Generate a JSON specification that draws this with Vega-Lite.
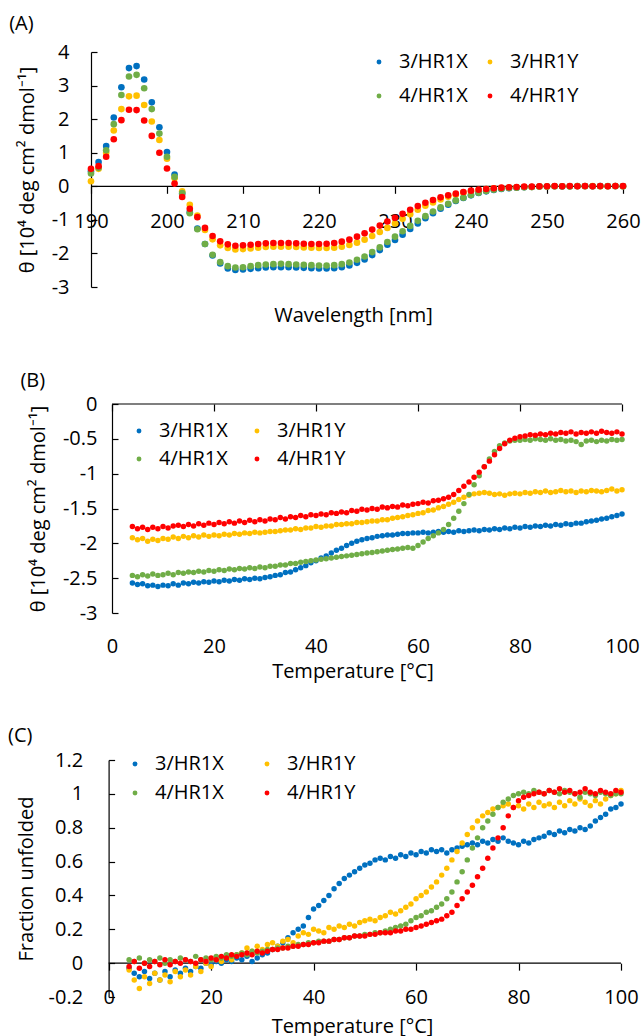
{
"$schema": "https://vega.github.io/schema/vega-lite/v6.json",
"background": "white",
"padding": {"left": 8, "top": 14, "right": 2, "bottom": 0},
"spacing": 45,
"config": {
  "font": "Open Sans",
  "view": {"stroke": null},
  "axis": {"labelFont": "Open Sans", "labelFontSize": 20, "labelColor": "#000", "titleFont": "Open Sans", "titleFontSize": 20, "titleFontWeight": "normal", "titleColor": "#000", "domainColor": "#000", "domainWidth": 1.2, "tickColor": "#000", "tickWidth": 1.2, "grid": false, "labelFlush": false, "labelOverlap": false, "maxExtent": 300, "labelExpr": "'' + datum.value"},
  "axisX": {"domain": false},
  "legend": {"labelFont": "Open Sans", "labelFontSize": 20, "labelColor": "#000", "symbolType": "circle", "symbolSize": 24, "symbolStrokeWidth": 0, "symbolOpacity": 1, "labelOffset": 10, "padding": 0, "title": null},
  "title": {"font": "Open Sans", "fontSize": 20, "fontWeight": "normal", "anchor": "start", "color": "#000", "frame": "bounds"}
},
"resolve": {"legend": {"color": "independent"}, "scale": {"color": "independent"}},
"datasets": {
"a": [
{"s":"3/HR1X","x":190,"y":0.45},{"s":"3/HR1X","x":191,"y":0.72},{"s":"3/HR1X","x":192,"y":1.2},{"s":"3/HR1X","x":193,"y":2.05},{"s":"3/HR1X","x":194,"y":2.95},{"s":"3/HR1X","x":195,"y":3.52},{"s":"3/HR1X","x":196,"y":3.58},{"s":"3/HR1X","x":197,"y":3.18},{"s":"3/HR1X","x":198,"y":2.5},{"s":"3/HR1X","x":199,"y":1.76},{"s":"3/HR1X","x":200,"y":1.02},{"s":"3/HR1X","x":201,"y":0.35},{"s":"3/HR1X","x":202,"y":-0.22},{"s":"3/HR1X","x":203,"y":-0.77},{"s":"3/HR1X","x":204,"y":-1.26},{"s":"3/HR1X","x":205,"y":-1.72},{"s":"3/HR1X","x":206,"y":-2.06},{"s":"3/HR1X","x":207,"y":-2.3},{"s":"3/HR1X","x":208,"y":-2.45},{"s":"3/HR1X","x":209,"y":-2.49},{"s":"3/HR1X","x":210,"y":-2.48},{"s":"3/HR1X","x":211,"y":-2.46},{"s":"3/HR1X","x":212,"y":-2.44},{"s":"3/HR1X","x":213,"y":-2.42},{"s":"3/HR1X","x":214,"y":-2.41},{"s":"3/HR1X","x":215,"y":-2.41},{"s":"3/HR1X","x":216,"y":-2.41},{"s":"3/HR1X","x":217,"y":-2.42},{"s":"3/HR1X","x":218,"y":-2.43},{"s":"3/HR1X","x":219,"y":-2.44},{"s":"3/HR1X","x":220,"y":-2.45},{"s":"3/HR1X","x":221,"y":-2.45},{"s":"3/HR1X","x":222,"y":-2.44},{"s":"3/HR1X","x":223,"y":-2.41},{"s":"3/HR1X","x":224,"y":-2.36},{"s":"3/HR1X","x":225,"y":-2.28},{"s":"3/HR1X","x":226,"y":-2.18},{"s":"3/HR1X","x":227,"y":-2.05},{"s":"3/HR1X","x":228,"y":-1.9},{"s":"3/HR1X","x":229,"y":-1.74},{"s":"3/HR1X","x":230,"y":-1.6},{"s":"3/HR1X","x":231,"y":-1.44},{"s":"3/HR1X","x":232,"y":-1.27},{"s":"3/HR1X","x":233,"y":-1.11},{"s":"3/HR1X","x":234,"y":-0.95},{"s":"3/HR1X","x":235,"y":-0.8},{"s":"3/HR1X","x":236,"y":-0.67},{"s":"3/HR1X","x":237,"y":-0.55},{"s":"3/HR1X","x":238,"y":-0.44},{"s":"3/HR1X","x":239,"y":-0.35},{"s":"3/HR1X","x":240,"y":-0.27},{"s":"3/HR1X","x":241,"y":-0.2},{"s":"3/HR1X","x":242,"y":-0.15},{"s":"3/HR1X","x":243,"y":-0.11},{"s":"3/HR1X","x":244,"y":-0.08},{"s":"3/HR1X","x":245,"y":-0.06},{"s":"3/HR1X","x":246,"y":-0.04},{"s":"3/HR1X","x":247,"y":-0.03},{"s":"3/HR1X","x":248,"y":-0.02},{"s":"3/HR1X","x":249,"y":-0.01},{"s":"3/HR1X","x":250,"y":-0.01},{"s":"3/HR1X","x":251,"y":0},{"s":"3/HR1X","x":252,"y":-0.01},{"s":"3/HR1X","x":253,"y":0},{"s":"3/HR1X","x":254,"y":0.01},{"s":"3/HR1X","x":255,"y":0},{"s":"3/HR1X","x":256,"y":0},{"s":"3/HR1X","x":257,"y":0.01},{"s":"3/HR1X","x":258,"y":0},{"s":"3/HR1X","x":259,"y":0.01},{"s":"3/HR1X","x":260,"y":0},
{"s":"3/HR1Y","x":190,"y":0.15},{"s":"3/HR1Y","x":191,"y":0.52},{"s":"3/HR1Y","x":192,"y":1.0},{"s":"3/HR1Y","x":193,"y":1.66},{"s":"3/HR1Y","x":194,"y":2.3},{"s":"3/HR1Y","x":195,"y":2.68},{"s":"3/HR1Y","x":196,"y":2.7},{"s":"3/HR1Y","x":197,"y":2.42},{"s":"3/HR1Y","x":198,"y":1.93},{"s":"3/HR1Y","x":199,"y":1.38},{"s":"3/HR1Y","x":200,"y":0.82},{"s":"3/HR1Y","x":201,"y":0.24},{"s":"3/HR1Y","x":202,"y":-0.15},{"s":"3/HR1Y","x":203,"y":-0.55},{"s":"3/HR1Y","x":204,"y":-0.87},{"s":"3/HR1Y","x":205,"y":-1.3},{"s":"3/HR1Y","x":206,"y":-1.58},{"s":"3/HR1Y","x":207,"y":-1.76},{"s":"3/HR1Y","x":208,"y":-1.84},{"s":"3/HR1Y","x":209,"y":-1.88},{"s":"3/HR1Y","x":210,"y":-1.87},{"s":"3/HR1Y","x":211,"y":-1.85},{"s":"3/HR1Y","x":212,"y":-1.83},{"s":"3/HR1Y","x":213,"y":-1.81},{"s":"3/HR1Y","x":214,"y":-1.8},{"s":"3/HR1Y","x":215,"y":-1.8},{"s":"3/HR1Y","x":216,"y":-1.8},{"s":"3/HR1Y","x":217,"y":-1.81},{"s":"3/HR1Y","x":218,"y":-1.82},{"s":"3/HR1Y","x":219,"y":-1.83},{"s":"3/HR1Y","x":220,"y":-1.84},{"s":"3/HR1Y","x":221,"y":-1.84},{"s":"3/HR1Y","x":222,"y":-1.83},{"s":"3/HR1Y","x":223,"y":-1.8},{"s":"3/HR1Y","x":224,"y":-1.75},{"s":"3/HR1Y","x":225,"y":-1.68},{"s":"3/HR1Y","x":226,"y":-1.59},{"s":"3/HR1Y","x":227,"y":-1.48},{"s":"3/HR1Y","x":228,"y":-1.36},{"s":"3/HR1Y","x":229,"y":-1.24},{"s":"3/HR1Y","x":230,"y":-1.11},{"s":"3/HR1Y","x":231,"y":-0.97},{"s":"3/HR1Y","x":232,"y":-0.83},{"s":"3/HR1Y","x":233,"y":-0.7},{"s":"3/HR1Y","x":234,"y":-0.58},{"s":"3/HR1Y","x":235,"y":-0.48},{"s":"3/HR1Y","x":236,"y":-0.39},{"s":"3/HR1Y","x":237,"y":-0.31},{"s":"3/HR1Y","x":238,"y":-0.25},{"s":"3/HR1Y","x":239,"y":-0.19},{"s":"3/HR1Y","x":240,"y":-0.15},{"s":"3/HR1Y","x":241,"y":-0.11},{"s":"3/HR1Y","x":242,"y":-0.08},{"s":"3/HR1Y","x":243,"y":-0.06},{"s":"3/HR1Y","x":244,"y":-0.05},{"s":"3/HR1Y","x":245,"y":-0.04},{"s":"3/HR1Y","x":246,"y":-0.03},{"s":"3/HR1Y","x":247,"y":-0.02},{"s":"3/HR1Y","x":248,"y":-0.02},{"s":"3/HR1Y","x":249,"y":-0.01},{"s":"3/HR1Y","x":250,"y":-0.01},{"s":"3/HR1Y","x":251,"y":0},{"s":"3/HR1Y","x":252,"y":0},{"s":"3/HR1Y","x":253,"y":0},{"s":"3/HR1Y","x":254,"y":0.01},{"s":"3/HR1Y","x":255,"y":0},{"s":"3/HR1Y","x":256,"y":0.01},{"s":"3/HR1Y","x":257,"y":0},{"s":"3/HR1Y","x":258,"y":0},{"s":"3/HR1Y","x":259,"y":0.01},{"s":"3/HR1Y","x":260,"y":0},
{"s":"4/HR1X","x":190,"y":0.38},{"s":"4/HR1X","x":191,"y":0.55},{"s":"4/HR1X","x":192,"y":1.07},{"s":"4/HR1X","x":193,"y":1.85},{"s":"4/HR1X","x":194,"y":2.72},{"s":"4/HR1X","x":195,"y":3.27},{"s":"4/HR1X","x":196,"y":3.32},{"s":"4/HR1X","x":197,"y":2.92},{"s":"4/HR1X","x":198,"y":2.3},{"s":"4/HR1X","x":199,"y":1.57},{"s":"4/HR1X","x":200,"y":0.88},{"s":"4/HR1X","x":201,"y":0.28},{"s":"4/HR1X","x":202,"y":-0.2},{"s":"4/HR1X","x":203,"y":-0.8},{"s":"4/HR1X","x":204,"y":-1.28},{"s":"4/HR1X","x":205,"y":-1.72},{"s":"4/HR1X","x":206,"y":-2.04},{"s":"4/HR1X","x":207,"y":-2.26},{"s":"4/HR1X","x":208,"y":-2.38},{"s":"4/HR1X","x":209,"y":-2.42},{"s":"4/HR1X","x":210,"y":-2.41},{"s":"4/HR1X","x":211,"y":-2.38},{"s":"4/HR1X","x":212,"y":-2.35},{"s":"4/HR1X","x":213,"y":-2.33},{"s":"4/HR1X","x":214,"y":-2.32},{"s":"4/HR1X","x":215,"y":-2.31},{"s":"4/HR1X","x":216,"y":-2.32},{"s":"4/HR1X","x":217,"y":-2.33},{"s":"4/HR1X","x":218,"y":-2.34},{"s":"4/HR1X","x":219,"y":-2.35},{"s":"4/HR1X","x":220,"y":-2.36},{"s":"4/HR1X","x":221,"y":-2.36},{"s":"4/HR1X","x":222,"y":-2.35},{"s":"4/HR1X","x":223,"y":-2.32},{"s":"4/HR1X","x":224,"y":-2.27},{"s":"4/HR1X","x":225,"y":-2.19},{"s":"4/HR1X","x":226,"y":-2.09},{"s":"4/HR1X","x":227,"y":-1.96},{"s":"4/HR1X","x":228,"y":-1.82},{"s":"4/HR1X","x":229,"y":-1.66},{"s":"4/HR1X","x":230,"y":-1.5},{"s":"4/HR1X","x":231,"y":-1.34},{"s":"4/HR1X","x":232,"y":-1.18},{"s":"4/HR1X","x":233,"y":-1.03},{"s":"4/HR1X","x":234,"y":-0.89},{"s":"4/HR1X","x":235,"y":-0.75},{"s":"4/HR1X","x":236,"y":-0.63},{"s":"4/HR1X","x":237,"y":-0.52},{"s":"4/HR1X","x":238,"y":-0.42},{"s":"4/HR1X","x":239,"y":-0.34},{"s":"4/HR1X","x":240,"y":-0.26},{"s":"4/HR1X","x":241,"y":-0.19},{"s":"4/HR1X","x":242,"y":-0.14},{"s":"4/HR1X","x":243,"y":-0.1},{"s":"4/HR1X","x":244,"y":-0.07},{"s":"4/HR1X","x":245,"y":-0.05},{"s":"4/HR1X","x":246,"y":-0.04},{"s":"4/HR1X","x":247,"y":-0.03},{"s":"4/HR1X","x":248,"y":-0.02},{"s":"4/HR1X","x":249,"y":-0.01},{"s":"4/HR1X","x":250,"y":-0.01},{"s":"4/HR1X","x":251,"y":0},{"s":"4/HR1X","x":252,"y":0},{"s":"4/HR1X","x":253,"y":-0.01},{"s":"4/HR1X","x":254,"y":0},{"s":"4/HR1X","x":255,"y":0.01},{"s":"4/HR1X","x":256,"y":0},{"s":"4/HR1X","x":257,"y":0},{"s":"4/HR1X","x":258,"y":0.01},{"s":"4/HR1X","x":259,"y":0},{"s":"4/HR1X","x":260,"y":0},
{"s":"4/HR1Y","x":190,"y":0.52},{"s":"4/HR1Y","x":191,"y":0.6},{"s":"4/HR1Y","x":192,"y":0.88},{"s":"4/HR1Y","x":193,"y":1.4},{"s":"4/HR1Y","x":194,"y":1.97},{"s":"4/HR1Y","x":195,"y":2.28},{"s":"4/HR1Y","x":196,"y":2.27},{"s":"4/HR1Y","x":197,"y":1.96},{"s":"4/HR1Y","x":198,"y":1.5},{"s":"4/HR1Y","x":199,"y":1.0},{"s":"4/HR1Y","x":200,"y":0.53},{"s":"4/HR1Y","x":201,"y":0.08},{"s":"4/HR1Y","x":202,"y":-0.32},{"s":"4/HR1Y","x":203,"y":-0.67},{"s":"4/HR1Y","x":204,"y":-0.92},{"s":"4/HR1Y","x":205,"y":-1.24},{"s":"4/HR1Y","x":206,"y":-1.48},{"s":"4/HR1Y","x":207,"y":-1.64},{"s":"4/HR1Y","x":208,"y":-1.73},{"s":"4/HR1Y","x":209,"y":-1.77},{"s":"4/HR1Y","x":210,"y":-1.76},{"s":"4/HR1Y","x":211,"y":-1.74},{"s":"4/HR1Y","x":212,"y":-1.72},{"s":"4/HR1Y","x":213,"y":-1.7},{"s":"4/HR1Y","x":214,"y":-1.69},{"s":"4/HR1Y","x":215,"y":-1.69},{"s":"4/HR1Y","x":216,"y":-1.69},{"s":"4/HR1Y","x":217,"y":-1.7},{"s":"4/HR1Y","x":218,"y":-1.71},{"s":"4/HR1Y","x":219,"y":-1.72},{"s":"4/HR1Y","x":220,"y":-1.72},{"s":"4/HR1Y","x":221,"y":-1.71},{"s":"4/HR1Y","x":222,"y":-1.69},{"s":"4/HR1Y","x":223,"y":-1.65},{"s":"4/HR1Y","x":224,"y":-1.59},{"s":"4/HR1Y","x":225,"y":-1.5},{"s":"4/HR1Y","x":226,"y":-1.4},{"s":"4/HR1Y","x":227,"y":-1.29},{"s":"4/HR1Y","x":228,"y":-1.17},{"s":"4/HR1Y","x":229,"y":-1.05},{"s":"4/HR1Y","x":230,"y":-0.94},{"s":"4/HR1Y","x":231,"y":-0.82},{"s":"4/HR1Y","x":232,"y":-0.7},{"s":"4/HR1Y","x":233,"y":-0.59},{"s":"4/HR1Y","x":234,"y":-0.49},{"s":"4/HR1Y","x":235,"y":-0.41},{"s":"4/HR1Y","x":236,"y":-0.33},{"s":"4/HR1Y","x":237,"y":-0.27},{"s":"4/HR1Y","x":238,"y":-0.22},{"s":"4/HR1Y","x":239,"y":-0.17},{"s":"4/HR1Y","x":240,"y":-0.13},{"s":"4/HR1Y","x":241,"y":-0.1},{"s":"4/HR1Y","x":242,"y":-0.08},{"s":"4/HR1Y","x":243,"y":-0.06},{"s":"4/HR1Y","x":244,"y":-0.04},{"s":"4/HR1Y","x":245,"y":-0.03},{"s":"4/HR1Y","x":246,"y":-0.02},{"s":"4/HR1Y","x":247,"y":-0.01},{"s":"4/HR1Y","x":248,"y":-0.01},{"s":"4/HR1Y","x":249,"y":0},{"s":"4/HR1Y","x":250,"y":0},{"s":"4/HR1Y","x":251,"y":0.01},{"s":"4/HR1Y","x":252,"y":0},{"s":"4/HR1Y","x":253,"y":0.01},{"s":"4/HR1Y","x":254,"y":0},{"s":"4/HR1Y","x":255,"y":0.01},{"s":"4/HR1Y","x":256,"y":0},{"s":"4/HR1Y","x":257,"y":0.01},{"s":"4/HR1Y","x":258,"y":0},{"s":"4/HR1Y","x":259,"y":0.01},{"s":"4/HR1Y","x":260,"y":0.01}
],
"b": [
{"s":"3/HR1X","x":4,"y":-2.57},{"s":"3/HR1X","x":5,"y":-2.59},{"s":"3/HR1X","x":6,"y":-2.58},{"s":"3/HR1X","x":7,"y":-2.61},{"s":"3/HR1X","x":8,"y":-2.6},{"s":"3/HR1X","x":9,"y":-2.62},{"s":"3/HR1X","x":10,"y":-2.6},{"s":"3/HR1X","x":11,"y":-2.61},{"s":"3/HR1X","x":12,"y":-2.58},{"s":"3/HR1X","x":13,"y":-2.6},{"s":"3/HR1X","x":14,"y":-2.57},{"s":"3/HR1X","x":15,"y":-2.58},{"s":"3/HR1X","x":16,"y":-2.56},{"s":"3/HR1X","x":17,"y":-2.57},{"s":"3/HR1X","x":18,"y":-2.55},{"s":"3/HR1X","x":19,"y":-2.56},{"s":"3/HR1X","x":20,"y":-2.54},{"s":"3/HR1X","x":21,"y":-2.55},{"s":"3/HR1X","x":22,"y":-2.53},{"s":"3/HR1X","x":23,"y":-2.54},{"s":"3/HR1X","x":24,"y":-2.52},{"s":"3/HR1X","x":25,"y":-2.53},{"s":"3/HR1X","x":26,"y":-2.51},{"s":"3/HR1X","x":27,"y":-2.52},{"s":"3/HR1X","x":28,"y":-2.5},{"s":"3/HR1X","x":29,"y":-2.51},{"s":"3/HR1X","x":30,"y":-2.49},{"s":"3/HR1X","x":31,"y":-2.48},{"s":"3/HR1X","x":32,"y":-2.46},{"s":"3/HR1X","x":33,"y":-2.45},{"s":"3/HR1X","x":34,"y":-2.42},{"s":"3/HR1X","x":35,"y":-2.41},{"s":"3/HR1X","x":36,"y":-2.38},{"s":"3/HR1X","x":37,"y":-2.35},{"s":"3/HR1X","x":38,"y":-2.32},{"s":"3/HR1X","x":39,"y":-2.28},{"s":"3/HR1X","x":40,"y":-2.25},{"s":"3/HR1X","x":41,"y":-2.21},{"s":"3/HR1X","x":42,"y":-2.18},{"s":"3/HR1X","x":43,"y":-2.14},{"s":"3/HR1X","x":44,"y":-2.1},{"s":"3/HR1X","x":45,"y":-2.07},{"s":"3/HR1X","x":46,"y":-2.03},{"s":"3/HR1X","x":47,"y":-2.0},{"s":"3/HR1X","x":48,"y":-1.97},{"s":"3/HR1X","x":49,"y":-1.95},{"s":"3/HR1X","x":50,"y":-1.93},{"s":"3/HR1X","x":51,"y":-1.92},{"s":"3/HR1X","x":52,"y":-1.9},{"s":"3/HR1X","x":53,"y":-1.89},{"s":"3/HR1X","x":54,"y":-1.88},{"s":"3/HR1X","x":55,"y":-1.88},{"s":"3/HR1X","x":56,"y":-1.87},{"s":"3/HR1X","x":57,"y":-1.86},{"s":"3/HR1X","x":58,"y":-1.86},{"s":"3/HR1X","x":59,"y":-1.85},{"s":"3/HR1X","x":60,"y":-1.85},{"s":"3/HR1X","x":61,"y":-1.84},{"s":"3/HR1X","x":62,"y":-1.85},{"s":"3/HR1X","x":63,"y":-1.84},{"s":"3/HR1X","x":64,"y":-1.83},{"s":"3/HR1X","x":65,"y":-1.84},{"s":"3/HR1X","x":66,"y":-1.83},{"s":"3/HR1X","x":67,"y":-1.84},{"s":"3/HR1X","x":68,"y":-1.82},{"s":"3/HR1X","x":69,"y":-1.83},{"s":"3/HR1X","x":70,"y":-1.82},{"s":"3/HR1X","x":71,"y":-1.81},{"s":"3/HR1X","x":72,"y":-1.82},{"s":"3/HR1X","x":73,"y":-1.8},{"s":"3/HR1X","x":74,"y":-1.81},{"s":"3/HR1X","x":75,"y":-1.79},{"s":"3/HR1X","x":76,"y":-1.8},{"s":"3/HR1X","x":77,"y":-1.78},{"s":"3/HR1X","x":78,"y":-1.79},{"s":"3/HR1X","x":79,"y":-1.77},{"s":"3/HR1X","x":80,"y":-1.78},{"s":"3/HR1X","x":81,"y":-1.76},{"s":"3/HR1X","x":82,"y":-1.77},{"s":"3/HR1X","x":83,"y":-1.75},{"s":"3/HR1X","x":84,"y":-1.76},{"s":"3/HR1X","x":85,"y":-1.74},{"s":"3/HR1X","x":86,"y":-1.75},{"s":"3/HR1X","x":87,"y":-1.73},{"s":"3/HR1X","x":88,"y":-1.74},{"s":"3/HR1X","x":89,"y":-1.72},{"s":"3/HR1X","x":90,"y":-1.73},{"s":"3/HR1X","x":91,"y":-1.71},{"s":"3/HR1X","x":92,"y":-1.71},{"s":"3/HR1X","x":93,"y":-1.69},{"s":"3/HR1X","x":94,"y":-1.68},{"s":"3/HR1X","x":95,"y":-1.67},{"s":"3/HR1X","x":96,"y":-1.65},{"s":"3/HR1X","x":97,"y":-1.64},{"s":"3/HR1X","x":98,"y":-1.62},{"s":"3/HR1X","x":99,"y":-1.6},{"s":"3/HR1X","x":100,"y":-1.58},
{"s":"3/HR1Y","x":4,"y":-1.92},{"s":"3/HR1Y","x":5,"y":-1.95},{"s":"3/HR1Y","x":6,"y":-1.93},{"s":"3/HR1Y","x":7,"y":-1.97},{"s":"3/HR1Y","x":8,"y":-1.94},{"s":"3/HR1Y","x":9,"y":-1.96},{"s":"3/HR1Y","x":10,"y":-1.93},{"s":"3/HR1Y","x":11,"y":-1.94},{"s":"3/HR1Y","x":12,"y":-1.91},{"s":"3/HR1Y","x":13,"y":-1.93},{"s":"3/HR1Y","x":14,"y":-1.9},{"s":"3/HR1Y","x":15,"y":-1.92},{"s":"3/HR1Y","x":16,"y":-1.89},{"s":"3/HR1Y","x":17,"y":-1.91},{"s":"3/HR1Y","x":18,"y":-1.88},{"s":"3/HR1Y","x":19,"y":-1.9},{"s":"3/HR1Y","x":20,"y":-1.88},{"s":"3/HR1Y","x":21,"y":-1.89},{"s":"3/HR1Y","x":22,"y":-1.87},{"s":"3/HR1Y","x":23,"y":-1.88},{"s":"3/HR1Y","x":24,"y":-1.86},{"s":"3/HR1Y","x":25,"y":-1.87},{"s":"3/HR1Y","x":26,"y":-1.85},{"s":"3/HR1Y","x":27,"y":-1.86},{"s":"3/HR1Y","x":28,"y":-1.84},{"s":"3/HR1Y","x":29,"y":-1.85},{"s":"3/HR1Y","x":30,"y":-1.84},{"s":"3/HR1Y","x":31,"y":-1.83},{"s":"3/HR1Y","x":32,"y":-1.83},{"s":"3/HR1Y","x":33,"y":-1.82},{"s":"3/HR1Y","x":34,"y":-1.81},{"s":"3/HR1Y","x":35,"y":-1.81},{"s":"3/HR1Y","x":36,"y":-1.79},{"s":"3/HR1Y","x":37,"y":-1.8},{"s":"3/HR1Y","x":38,"y":-1.78},{"s":"3/HR1Y","x":39,"y":-1.78},{"s":"3/HR1Y","x":40,"y":-1.76},{"s":"3/HR1Y","x":41,"y":-1.77},{"s":"3/HR1Y","x":42,"y":-1.75},{"s":"3/HR1Y","x":43,"y":-1.75},{"s":"3/HR1Y","x":44,"y":-1.73},{"s":"3/HR1Y","x":45,"y":-1.73},{"s":"3/HR1Y","x":46,"y":-1.72},{"s":"3/HR1Y","x":47,"y":-1.72},{"s":"3/HR1Y","x":48,"y":-1.7},{"s":"3/HR1Y","x":49,"y":-1.7},{"s":"3/HR1Y","x":50,"y":-1.69},{"s":"3/HR1Y","x":51,"y":-1.68},{"s":"3/HR1Y","x":52,"y":-1.68},{"s":"3/HR1Y","x":53,"y":-1.66},{"s":"3/HR1Y","x":54,"y":-1.66},{"s":"3/HR1Y","x":55,"y":-1.64},{"s":"3/HR1Y","x":56,"y":-1.63},{"s":"3/HR1Y","x":57,"y":-1.62},{"s":"3/HR1Y","x":58,"y":-1.6},{"s":"3/HR1Y","x":59,"y":-1.59},{"s":"3/HR1Y","x":60,"y":-1.57},{"s":"3/HR1Y","x":61,"y":-1.56},{"s":"3/HR1Y","x":62,"y":-1.53},{"s":"3/HR1Y","x":63,"y":-1.52},{"s":"3/HR1Y","x":64,"y":-1.49},{"s":"3/HR1Y","x":65,"y":-1.47},{"s":"3/HR1Y","x":66,"y":-1.44},{"s":"3/HR1Y","x":67,"y":-1.41},{"s":"3/HR1Y","x":68,"y":-1.37},{"s":"3/HR1Y","x":69,"y":-1.34},{"s":"3/HR1Y","x":70,"y":-1.31},{"s":"3/HR1Y","x":71,"y":-1.29},{"s":"3/HR1Y","x":72,"y":-1.28},{"s":"3/HR1Y","x":73,"y":-1.27},{"s":"3/HR1Y","x":74,"y":-1.28},{"s":"3/HR1Y","x":75,"y":-1.3},{"s":"3/HR1Y","x":76,"y":-1.29},{"s":"3/HR1Y","x":77,"y":-1.31},{"s":"3/HR1Y","x":78,"y":-1.29},{"s":"3/HR1Y","x":79,"y":-1.28},{"s":"3/HR1Y","x":80,"y":-1.29},{"s":"3/HR1Y","x":81,"y":-1.27},{"s":"3/HR1Y","x":82,"y":-1.28},{"s":"3/HR1Y","x":83,"y":-1.26},{"s":"3/HR1Y","x":84,"y":-1.27},{"s":"3/HR1Y","x":85,"y":-1.25},{"s":"3/HR1Y","x":86,"y":-1.27},{"s":"3/HR1Y","x":87,"y":-1.26},{"s":"3/HR1Y","x":88,"y":-1.24},{"s":"3/HR1Y","x":89,"y":-1.26},{"s":"3/HR1Y","x":90,"y":-1.25},{"s":"3/HR1Y","x":91,"y":-1.27},{"s":"3/HR1Y","x":92,"y":-1.25},{"s":"3/HR1Y","x":93,"y":-1.26},{"s":"3/HR1Y","x":94,"y":-1.24},{"s":"3/HR1Y","x":95,"y":-1.25},{"s":"3/HR1Y","x":96,"y":-1.26},{"s":"3/HR1Y","x":97,"y":-1.24},{"s":"3/HR1Y","x":98,"y":-1.22},{"s":"3/HR1Y","x":99,"y":-1.25},{"s":"3/HR1Y","x":100,"y":-1.23},
{"s":"4/HR1X","x":4,"y":-2.46},{"s":"4/HR1X","x":5,"y":-2.48},{"s":"4/HR1X","x":6,"y":-2.45},{"s":"4/HR1X","x":7,"y":-2.47},{"s":"4/HR1X","x":8,"y":-2.44},{"s":"4/HR1X","x":9,"y":-2.46},{"s":"4/HR1X","x":10,"y":-2.45},{"s":"4/HR1X","x":11,"y":-2.43},{"s":"4/HR1X","x":12,"y":-2.45},{"s":"4/HR1X","x":13,"y":-2.42},{"s":"4/HR1X","x":14,"y":-2.43},{"s":"4/HR1X","x":15,"y":-2.41},{"s":"4/HR1X","x":16,"y":-2.42},{"s":"4/HR1X","x":17,"y":-2.4},{"s":"4/HR1X","x":18,"y":-2.41},{"s":"4/HR1X","x":19,"y":-2.39},{"s":"4/HR1X","x":20,"y":-2.4},{"s":"4/HR1X","x":21,"y":-2.38},{"s":"4/HR1X","x":22,"y":-2.39},{"s":"4/HR1X","x":23,"y":-2.37},{"s":"4/HR1X","x":24,"y":-2.38},{"s":"4/HR1X","x":25,"y":-2.36},{"s":"4/HR1X","x":26,"y":-2.37},{"s":"4/HR1X","x":27,"y":-2.35},{"s":"4/HR1X","x":28,"y":-2.36},{"s":"4/HR1X","x":29,"y":-2.34},{"s":"4/HR1X","x":30,"y":-2.35},{"s":"4/HR1X","x":31,"y":-2.33},{"s":"4/HR1X","x":32,"y":-2.33},{"s":"4/HR1X","x":33,"y":-2.31},{"s":"4/HR1X","x":34,"y":-2.31},{"s":"4/HR1X","x":35,"y":-2.29},{"s":"4/HR1X","x":36,"y":-2.29},{"s":"4/HR1X","x":37,"y":-2.27},{"s":"4/HR1X","x":38,"y":-2.26},{"s":"4/HR1X","x":39,"y":-2.25},{"s":"4/HR1X","x":40,"y":-2.24},{"s":"4/HR1X","x":41,"y":-2.23},{"s":"4/HR1X","x":42,"y":-2.22},{"s":"4/HR1X","x":43,"y":-2.21},{"s":"4/HR1X","x":44,"y":-2.2},{"s":"4/HR1X","x":45,"y":-2.19},{"s":"4/HR1X","x":46,"y":-2.18},{"s":"4/HR1X","x":47,"y":-2.17},{"s":"4/HR1X","x":48,"y":-2.16},{"s":"4/HR1X","x":49,"y":-2.15},{"s":"4/HR1X","x":50,"y":-2.14},{"s":"4/HR1X","x":51,"y":-2.13},{"s":"4/HR1X","x":52,"y":-2.12},{"s":"4/HR1X","x":53,"y":-2.11},{"s":"4/HR1X","x":54,"y":-2.1},{"s":"4/HR1X","x":55,"y":-2.09},{"s":"4/HR1X","x":56,"y":-2.08},{"s":"4/HR1X","x":57,"y":-2.07},{"s":"4/HR1X","x":58,"y":-2.06},{"s":"4/HR1X","x":59,"y":-2.07},{"s":"4/HR1X","x":60,"y":-2.03},{"s":"4/HR1X","x":61,"y":-1.98},{"s":"4/HR1X","x":62,"y":-1.93},{"s":"4/HR1X","x":63,"y":-1.89},{"s":"4/HR1X","x":64,"y":-1.85},{"s":"4/HR1X","x":65,"y":-1.8},{"s":"4/HR1X","x":66,"y":-1.73},{"s":"4/HR1X","x":67,"y":-1.64},{"s":"4/HR1X","x":68,"y":-1.54},{"s":"4/HR1X","x":69,"y":-1.43},{"s":"4/HR1X","x":70,"y":-1.3},{"s":"4/HR1X","x":71,"y":-1.16},{"s":"4/HR1X","x":72,"y":-1.03},{"s":"4/HR1X","x":73,"y":-0.9},{"s":"4/HR1X","x":74,"y":-0.79},{"s":"4/HR1X","x":75,"y":-0.68},{"s":"4/HR1X","x":76,"y":-0.6},{"s":"4/HR1X","x":77,"y":-0.56},{"s":"4/HR1X","x":78,"y":-0.53},{"s":"4/HR1X","x":79,"y":-0.52},{"s":"4/HR1X","x":80,"y":-0.52},{"s":"4/HR1X","x":81,"y":-0.51},{"s":"4/HR1X","x":82,"y":-0.52},{"s":"4/HR1X","x":83,"y":-0.5},{"s":"4/HR1X","x":84,"y":-0.51},{"s":"4/HR1X","x":85,"y":-0.52},{"s":"4/HR1X","x":86,"y":-0.5},{"s":"4/HR1X","x":87,"y":-0.52},{"s":"4/HR1X","x":88,"y":-0.51},{"s":"4/HR1X","x":89,"y":-0.53},{"s":"4/HR1X","x":90,"y":-0.52},{"s":"4/HR1X","x":91,"y":-0.54},{"s":"4/HR1X","x":92,"y":-0.58},{"s":"4/HR1X","x":93,"y":-0.53},{"s":"4/HR1X","x":94,"y":-0.52},{"s":"4/HR1X","x":95,"y":-0.54},{"s":"4/HR1X","x":96,"y":-0.52},{"s":"4/HR1X","x":97,"y":-0.53},{"s":"4/HR1X","x":98,"y":-0.51},{"s":"4/HR1X","x":99,"y":-0.52},{"s":"4/HR1X","x":100,"y":-0.51},
{"s":"4/HR1Y","x":4,"y":-1.76},{"s":"4/HR1Y","x":5,"y":-1.79},{"s":"4/HR1Y","x":6,"y":-1.77},{"s":"4/HR1Y","x":7,"y":-1.8},{"s":"4/HR1Y","x":8,"y":-1.77},{"s":"4/HR1Y","x":9,"y":-1.79},{"s":"4/HR1Y","x":10,"y":-1.76},{"s":"4/HR1Y","x":11,"y":-1.78},{"s":"4/HR1Y","x":12,"y":-1.75},{"s":"4/HR1Y","x":13,"y":-1.74},{"s":"4/HR1Y","x":14,"y":-1.76},{"s":"4/HR1Y","x":15,"y":-1.73},{"s":"4/HR1Y","x":16,"y":-1.75},{"s":"4/HR1Y","x":17,"y":-1.72},{"s":"4/HR1Y","x":18,"y":-1.74},{"s":"4/HR1Y","x":19,"y":-1.71},{"s":"4/HR1Y","x":20,"y":-1.73},{"s":"4/HR1Y","x":21,"y":-1.7},{"s":"4/HR1Y","x":22,"y":-1.72},{"s":"4/HR1Y","x":23,"y":-1.69},{"s":"4/HR1Y","x":24,"y":-1.71},{"s":"4/HR1Y","x":25,"y":-1.68},{"s":"4/HR1Y","x":26,"y":-1.7},{"s":"4/HR1Y","x":27,"y":-1.67},{"s":"4/HR1Y","x":28,"y":-1.69},{"s":"4/HR1Y","x":29,"y":-1.66},{"s":"4/HR1Y","x":30,"y":-1.68},{"s":"4/HR1Y","x":31,"y":-1.65},{"s":"4/HR1Y","x":32,"y":-1.66},{"s":"4/HR1Y","x":33,"y":-1.63},{"s":"4/HR1Y","x":34,"y":-1.65},{"s":"4/HR1Y","x":35,"y":-1.62},{"s":"4/HR1Y","x":36,"y":-1.63},{"s":"4/HR1Y","x":37,"y":-1.6},{"s":"4/HR1Y","x":38,"y":-1.62},{"s":"4/HR1Y","x":39,"y":-1.59},{"s":"4/HR1Y","x":40,"y":-1.6},{"s":"4/HR1Y","x":41,"y":-1.58},{"s":"4/HR1Y","x":42,"y":-1.59},{"s":"4/HR1Y","x":43,"y":-1.56},{"s":"4/HR1Y","x":44,"y":-1.57},{"s":"4/HR1Y","x":45,"y":-1.55},{"s":"4/HR1Y","x":46,"y":-1.56},{"s":"4/HR1Y","x":47,"y":-1.53},{"s":"4/HR1Y","x":48,"y":-1.54},{"s":"4/HR1Y","x":49,"y":-1.51},{"s":"4/HR1Y","x":50,"y":-1.52},{"s":"4/HR1Y","x":51,"y":-1.5},{"s":"4/HR1Y","x":52,"y":-1.51},{"s":"4/HR1Y","x":53,"y":-1.48},{"s":"4/HR1Y","x":54,"y":-1.49},{"s":"4/HR1Y","x":55,"y":-1.47},{"s":"4/HR1Y","x":56,"y":-1.48},{"s":"4/HR1Y","x":57,"y":-1.45},{"s":"4/HR1Y","x":58,"y":-1.46},{"s":"4/HR1Y","x":59,"y":-1.44},{"s":"4/HR1Y","x":60,"y":-1.43},{"s":"4/HR1Y","x":61,"y":-1.41},{"s":"4/HR1Y","x":62,"y":-1.42},{"s":"4/HR1Y","x":63,"y":-1.39},{"s":"4/HR1Y","x":64,"y":-1.38},{"s":"4/HR1Y","x":65,"y":-1.36},{"s":"4/HR1Y","x":66,"y":-1.34},{"s":"4/HR1Y","x":67,"y":-1.3},{"s":"4/HR1Y","x":68,"y":-1.24},{"s":"4/HR1Y","x":69,"y":-1.18},{"s":"4/HR1Y","x":70,"y":-1.12},{"s":"4/HR1Y","x":71,"y":-1.05},{"s":"4/HR1Y","x":72,"y":-0.98},{"s":"4/HR1Y","x":73,"y":-0.9},{"s":"4/HR1Y","x":74,"y":-0.82},{"s":"4/HR1Y","x":75,"y":-0.73},{"s":"4/HR1Y","x":76,"y":-0.64},{"s":"4/HR1Y","x":77,"y":-0.57},{"s":"4/HR1Y","x":78,"y":-0.52},{"s":"4/HR1Y","x":79,"y":-0.49},{"s":"4/HR1Y","x":80,"y":-0.47},{"s":"4/HR1Y","x":81,"y":-0.46},{"s":"4/HR1Y","x":82,"y":-0.44},{"s":"4/HR1Y","x":83,"y":-0.45},{"s":"4/HR1Y","x":84,"y":-0.43},{"s":"4/HR1Y","x":85,"y":-0.44},{"s":"4/HR1Y","x":86,"y":-0.42},{"s":"4/HR1Y","x":87,"y":-0.43},{"s":"4/HR1Y","x":88,"y":-0.41},{"s":"4/HR1Y","x":89,"y":-0.42},{"s":"4/HR1Y","x":90,"y":-0.4},{"s":"4/HR1Y","x":91,"y":-0.43},{"s":"4/HR1Y","x":92,"y":-0.41},{"s":"4/HR1Y","x":93,"y":-0.42},{"s":"4/HR1Y","x":94,"y":-0.4},{"s":"4/HR1Y","x":95,"y":-0.42},{"s":"4/HR1Y","x":96,"y":-0.39},{"s":"4/HR1Y","x":97,"y":-0.41},{"s":"4/HR1Y","x":98,"y":-0.42},{"s":"4/HR1Y","x":99,"y":-0.4},{"s":"4/HR1Y","x":100,"y":-0.43}
],
"c": [
{"s":"3/HR1X","x":4,"y":-0.03},{"s":"3/HR1X","x":5,"y":-0.06},{"s":"3/HR1X","x":6,"y":-0.08},{"s":"3/HR1X","x":7,"y":-0.05},{"s":"3/HR1X","x":8,"y":-0.09},{"s":"3/HR1X","x":9,"y":-0.06},{"s":"3/HR1X","x":10,"y":-0.1},{"s":"3/HR1X","x":11,"y":-0.05},{"s":"3/HR1X","x":12,"y":-0.08},{"s":"3/HR1X","x":13,"y":-0.04},{"s":"3/HR1X","x":14,"y":-0.06},{"s":"3/HR1X","x":15,"y":-0.03},{"s":"3/HR1X","x":16,"y":-0.05},{"s":"3/HR1X","x":17,"y":-0.02},{"s":"3/HR1X","x":18,"y":-0.03},{"s":"3/HR1X","x":19,"y":0},{"s":"3/HR1X","x":20,"y":-0.01},{"s":"3/HR1X","x":21,"y":0.01},{"s":"3/HR1X","x":22,"y":0},{"s":"3/HR1X","x":23,"y":0.02},{"s":"3/HR1X","x":24,"y":0.01},{"s":"3/HR1X","x":25,"y":0.03},{"s":"3/HR1X","x":26,"y":0.02},{"s":"3/HR1X","x":27,"y":0.04},{"s":"3/HR1X","x":28,"y":0.01},{"s":"3/HR1X","x":29,"y":0.03},{"s":"3/HR1X","x":30,"y":0.05},{"s":"3/HR1X","x":31,"y":0.06},{"s":"3/HR1X","x":32,"y":0.08},{"s":"3/HR1X","x":33,"y":0.1},{"s":"3/HR1X","x":34,"y":0.12},{"s":"3/HR1X","x":35,"y":0.15},{"s":"3/HR1X","x":36,"y":0.18},{"s":"3/HR1X","x":37,"y":0.2},{"s":"3/HR1X","x":38,"y":0.22},{"s":"3/HR1X","x":39,"y":0.27},{"s":"3/HR1X","x":40,"y":0.32},{"s":"3/HR1X","x":41,"y":0.34},{"s":"3/HR1X","x":42,"y":0.37},{"s":"3/HR1X","x":43,"y":0.4},{"s":"3/HR1X","x":44,"y":0.44},{"s":"3/HR1X","x":45,"y":0.47},{"s":"3/HR1X","x":46,"y":0.5},{"s":"3/HR1X","x":47,"y":0.52},{"s":"3/HR1X","x":48,"y":0.54},{"s":"3/HR1X","x":49,"y":0.56},{"s":"3/HR1X","x":50,"y":0.58},{"s":"3/HR1X","x":51,"y":0.59},{"s":"3/HR1X","x":52,"y":0.61},{"s":"3/HR1X","x":53,"y":0.62},{"s":"3/HR1X","x":54,"y":0.61},{"s":"3/HR1X","x":55,"y":0.63},{"s":"3/HR1X","x":56,"y":0.62},{"s":"3/HR1X","x":57,"y":0.64},{"s":"3/HR1X","x":58,"y":0.63},{"s":"3/HR1X","x":59,"y":0.65},{"s":"3/HR1X","x":60,"y":0.64},{"s":"3/HR1X","x":61,"y":0.66},{"s":"3/HR1X","x":62,"y":0.65},{"s":"3/HR1X","x":63,"y":0.67},{"s":"3/HR1X","x":64,"y":0.66},{"s":"3/HR1X","x":65,"y":0.67},{"s":"3/HR1X","x":66,"y":0.65},{"s":"3/HR1X","x":67,"y":0.67},{"s":"3/HR1X","x":68,"y":0.68},{"s":"3/HR1X","x":69,"y":0.69},{"s":"3/HR1X","x":70,"y":0.7},{"s":"3/HR1X","x":71,"y":0.71},{"s":"3/HR1X","x":72,"y":0.7},{"s":"3/HR1X","x":73,"y":0.72},{"s":"3/HR1X","x":74,"y":0.71},{"s":"3/HR1X","x":75,"y":0.73},{"s":"3/HR1X","x":76,"y":0.72},{"s":"3/HR1X","x":77,"y":0.74},{"s":"3/HR1X","x":78,"y":0.72},{"s":"3/HR1X","x":79,"y":0.71},{"s":"3/HR1X","x":80,"y":0.7},{"s":"3/HR1X","x":81,"y":0.72},{"s":"3/HR1X","x":82,"y":0.71},{"s":"3/HR1X","x":83,"y":0.73},{"s":"3/HR1X","x":84,"y":0.74},{"s":"3/HR1X","x":85,"y":0.75},{"s":"3/HR1X","x":86,"y":0.77},{"s":"3/HR1X","x":87,"y":0.76},{"s":"3/HR1X","x":88,"y":0.78},{"s":"3/HR1X","x":89,"y":0.77},{"s":"3/HR1X","x":90,"y":0.79},{"s":"3/HR1X","x":91,"y":0.78},{"s":"3/HR1X","x":92,"y":0.8},{"s":"3/HR1X","x":93,"y":0.79},{"s":"3/HR1X","x":94,"y":0.81},{"s":"3/HR1X","x":95,"y":0.84},{"s":"3/HR1X","x":96,"y":0.86},{"s":"3/HR1X","x":97,"y":0.88},{"s":"3/HR1X","x":98,"y":0.91},{"s":"3/HR1X","x":99,"y":0.92},{"s":"3/HR1X","x":100,"y":0.94},
{"s":"3/HR1Y","x":4,"y":-0.04},{"s":"3/HR1Y","x":5,"y":-0.1},{"s":"3/HR1Y","x":6,"y":-0.15},{"s":"3/HR1Y","x":7,"y":-0.08},{"s":"3/HR1Y","x":8,"y":-0.12},{"s":"3/HR1Y","x":9,"y":-0.06},{"s":"3/HR1Y","x":10,"y":-0.1},{"s":"3/HR1Y","x":11,"y":-0.07},{"s":"3/HR1Y","x":12,"y":-0.11},{"s":"3/HR1Y","x":13,"y":-0.05},{"s":"3/HR1Y","x":14,"y":-0.08},{"s":"3/HR1Y","x":15,"y":-0.04},{"s":"3/HR1Y","x":16,"y":-0.07},{"s":"3/HR1Y","x":17,"y":-0.02},{"s":"3/HR1Y","x":18,"y":-0.05},{"s":"3/HR1Y","x":19,"y":0},{"s":"3/HR1Y","x":20,"y":-0.02},{"s":"3/HR1Y","x":21,"y":0.02},{"s":"3/HR1Y","x":22,"y":0.01},{"s":"3/HR1Y","x":23,"y":0.04},{"s":"3/HR1Y","x":24,"y":0.02},{"s":"3/HR1Y","x":25,"y":0.05},{"s":"3/HR1Y","x":26,"y":0.06},{"s":"3/HR1Y","x":27,"y":0.09},{"s":"3/HR1Y","x":28,"y":0.07},{"s":"3/HR1Y","x":29,"y":0.1},{"s":"3/HR1Y","x":30,"y":0.08},{"s":"3/HR1Y","x":31,"y":0.11},{"s":"3/HR1Y","x":32,"y":0.12},{"s":"3/HR1Y","x":33,"y":0.1},{"s":"3/HR1Y","x":34,"y":0.13},{"s":"3/HR1Y","x":35,"y":0.14},{"s":"3/HR1Y","x":36,"y":0.12},{"s":"3/HR1Y","x":37,"y":0.16},{"s":"3/HR1Y","x":38,"y":0.18},{"s":"3/HR1Y","x":39,"y":0.17},{"s":"3/HR1Y","x":40,"y":0.2},{"s":"3/HR1Y","x":41,"y":0.19},{"s":"3/HR1Y","x":42,"y":0.18},{"s":"3/HR1Y","x":43,"y":0.21},{"s":"3/HR1Y","x":44,"y":0.2},{"s":"3/HR1Y","x":45,"y":0.22},{"s":"3/HR1Y","x":46,"y":0.21},{"s":"3/HR1Y","x":47,"y":0.23},{"s":"3/HR1Y","x":48,"y":0.22},{"s":"3/HR1Y","x":49,"y":0.24},{"s":"3/HR1Y","x":50,"y":0.25},{"s":"3/HR1Y","x":51,"y":0.26},{"s":"3/HR1Y","x":52,"y":0.25},{"s":"3/HR1Y","x":53,"y":0.27},{"s":"3/HR1Y","x":54,"y":0.28},{"s":"3/HR1Y","x":55,"y":0.3},{"s":"3/HR1Y","x":56,"y":0.29},{"s":"3/HR1Y","x":57,"y":0.31},{"s":"3/HR1Y","x":58,"y":0.33},{"s":"3/HR1Y","x":59,"y":0.35},{"s":"3/HR1Y","x":60,"y":0.38},{"s":"3/HR1Y","x":61,"y":0.4},{"s":"3/HR1Y","x":62,"y":0.42},{"s":"3/HR1Y","x":63,"y":0.45},{"s":"3/HR1Y","x":64,"y":0.48},{"s":"3/HR1Y","x":65,"y":0.52},{"s":"3/HR1Y","x":66,"y":0.56},{"s":"3/HR1Y","x":67,"y":0.61},{"s":"3/HR1Y","x":68,"y":0.66},{"s":"3/HR1Y","x":69,"y":0.71},{"s":"3/HR1Y","x":70,"y":0.76},{"s":"3/HR1Y","x":71,"y":0.8},{"s":"3/HR1Y","x":72,"y":0.84},{"s":"3/HR1Y","x":73,"y":0.87},{"s":"3/HR1Y","x":74,"y":0.89},{"s":"3/HR1Y","x":75,"y":0.91},{"s":"3/HR1Y","x":76,"y":0.92},{"s":"3/HR1Y","x":77,"y":0.93},{"s":"3/HR1Y","x":78,"y":0.94},{"s":"3/HR1Y","x":79,"y":0.92},{"s":"3/HR1Y","x":80,"y":0.93},{"s":"3/HR1Y","x":81,"y":0.91},{"s":"3/HR1Y","x":82,"y":0.94},{"s":"3/HR1Y","x":83,"y":0.92},{"s":"3/HR1Y","x":84,"y":0.95},{"s":"3/HR1Y","x":85,"y":0.93},{"s":"3/HR1Y","x":86,"y":0.94},{"s":"3/HR1Y","x":87,"y":0.92},{"s":"3/HR1Y","x":88,"y":0.95},{"s":"3/HR1Y","x":89,"y":0.93},{"s":"3/HR1Y","x":90,"y":0.96},{"s":"3/HR1Y","x":91,"y":0.94},{"s":"3/HR1Y","x":92,"y":0.97},{"s":"3/HR1Y","x":93,"y":0.95},{"s":"3/HR1Y","x":94,"y":0.93},{"s":"3/HR1Y","x":95,"y":0.96},{"s":"3/HR1Y","x":96,"y":0.94},{"s":"3/HR1Y","x":97,"y":0.97},{"s":"3/HR1Y","x":98,"y":0.99},{"s":"3/HR1Y","x":99,"y":1.0},{"s":"3/HR1Y","x":100,"y":1.02},
{"s":"4/HR1X","x":4,"y":0.02},{"s":"4/HR1X","x":5,"y":0.01},{"s":"4/HR1X","x":6,"y":0.03},{"s":"4/HR1X","x":7,"y":0},{"s":"4/HR1X","x":8,"y":0.02},{"s":"4/HR1X","x":9,"y":0.01},{"s":"4/HR1X","x":10,"y":0.03},{"s":"4/HR1X","x":11,"y":0},{"s":"4/HR1X","x":12,"y":0.02},{"s":"4/HR1X","x":13,"y":0.01},{"s":"4/HR1X","x":14,"y":0.03},{"s":"4/HR1X","x":15,"y":0.02},{"s":"4/HR1X","x":16,"y":0.01},{"s":"4/HR1X","x":17,"y":0.04},{"s":"4/HR1X","x":18,"y":0.02},{"s":"4/HR1X","x":19,"y":0.03},{"s":"4/HR1X","x":20,"y":0.02},{"s":"4/HR1X","x":21,"y":0.04},{"s":"4/HR1X","x":22,"y":0.03},{"s":"4/HR1X","x":23,"y":0.05},{"s":"4/HR1X","x":24,"y":0.04},{"s":"4/HR1X","x":25,"y":0.05},{"s":"4/HR1X","x":26,"y":0.06},{"s":"4/HR1X","x":27,"y":0.05},{"s":"4/HR1X","x":28,"y":0.07},{"s":"4/HR1X","x":29,"y":0.06},{"s":"4/HR1X","x":30,"y":0.07},{"s":"4/HR1X","x":31,"y":0.08},{"s":"4/HR1X","x":32,"y":0.08},{"s":"4/HR1X","x":33,"y":0.09},{"s":"4/HR1X","x":34,"y":0.09},{"s":"4/HR1X","x":35,"y":0.1},{"s":"4/HR1X","x":36,"y":0.1},{"s":"4/HR1X","x":37,"y":0.11},{"s":"4/HR1X","x":38,"y":0.11},{"s":"4/HR1X","x":39,"y":0.12},{"s":"4/HR1X","x":40,"y":0.12},{"s":"4/HR1X","x":41,"y":0.13},{"s":"4/HR1X","x":42,"y":0.13},{"s":"4/HR1X","x":43,"y":0.13},{"s":"4/HR1X","x":44,"y":0.14},{"s":"4/HR1X","x":45,"y":0.14},{"s":"4/HR1X","x":46,"y":0.15},{"s":"4/HR1X","x":47,"y":0.15},{"s":"4/HR1X","x":48,"y":0.16},{"s":"4/HR1X","x":49,"y":0.16},{"s":"4/HR1X","x":50,"y":0.17},{"s":"4/HR1X","x":51,"y":0.17},{"s":"4/HR1X","x":52,"y":0.18},{"s":"4/HR1X","x":53,"y":0.18},{"s":"4/HR1X","x":54,"y":0.19},{"s":"4/HR1X","x":55,"y":0.2},{"s":"4/HR1X","x":56,"y":0.21},{"s":"4/HR1X","x":57,"y":0.22},{"s":"4/HR1X","x":58,"y":0.23},{"s":"4/HR1X","x":59,"y":0.25},{"s":"4/HR1X","x":60,"y":0.27},{"s":"4/HR1X","x":61,"y":0.28},{"s":"4/HR1X","x":62,"y":0.3},{"s":"4/HR1X","x":63,"y":0.31},{"s":"4/HR1X","x":64,"y":0.33},{"s":"4/HR1X","x":65,"y":0.35},{"s":"4/HR1X","x":66,"y":0.38},{"s":"4/HR1X","x":67,"y":0.42},{"s":"4/HR1X","x":68,"y":0.48},{"s":"4/HR1X","x":69,"y":0.54},{"s":"4/HR1X","x":70,"y":0.61},{"s":"4/HR1X","x":71,"y":0.68},{"s":"4/HR1X","x":72,"y":0.74},{"s":"4/HR1X","x":73,"y":0.8},{"s":"4/HR1X","x":74,"y":0.84},{"s":"4/HR1X","x":75,"y":0.88},{"s":"4/HR1X","x":76,"y":0.92},{"s":"4/HR1X","x":77,"y":0.95},{"s":"4/HR1X","x":78,"y":0.97},{"s":"4/HR1X","x":79,"y":0.99},{"s":"4/HR1X","x":80,"y":1.0},{"s":"4/HR1X","x":81,"y":1.01},{"s":"4/HR1X","x":82,"y":1.0},{"s":"4/HR1X","x":83,"y":1.02},{"s":"4/HR1X","x":84,"y":1.01},{"s":"4/HR1X","x":85,"y":1.0},{"s":"4/HR1X","x":86,"y":1.02},{"s":"4/HR1X","x":87,"y":1.01},{"s":"4/HR1X","x":88,"y":1.0},{"s":"4/HR1X","x":89,"y":1.02},{"s":"4/HR1X","x":90,"y":1.01},{"s":"4/HR1X","x":91,"y":1.0},{"s":"4/HR1X","x":92,"y":0.98},{"s":"4/HR1X","x":93,"y":1.01},{"s":"4/HR1X","x":94,"y":1.0},{"s":"4/HR1X","x":95,"y":0.99},{"s":"4/HR1X","x":96,"y":1.01},{"s":"4/HR1X","x":97,"y":1.0},{"s":"4/HR1X","x":98,"y":0.99},{"s":"4/HR1X","x":99,"y":1.0},{"s":"4/HR1X","x":100,"y":1.0},
{"s":"4/HR1Y","x":4,"y":-0.02},{"s":"4/HR1Y","x":5,"y":0.01},{"s":"4/HR1Y","x":6,"y":-0.03},{"s":"4/HR1Y","x":7,"y":0},{"s":"4/HR1Y","x":8,"y":-0.02},{"s":"4/HR1Y","x":9,"y":0.01},{"s":"4/HR1Y","x":10,"y":-0.01},{"s":"4/HR1Y","x":11,"y":0.02},{"s":"4/HR1Y","x":12,"y":-0.01},{"s":"4/HR1Y","x":13,"y":0.01},{"s":"4/HR1Y","x":14,"y":0},{"s":"4/HR1Y","x":15,"y":0.02},{"s":"4/HR1Y","x":16,"y":0.01},{"s":"4/HR1Y","x":17,"y":0},{"s":"4/HR1Y","x":18,"y":0.02},{"s":"4/HR1Y","x":19,"y":0.01},{"s":"4/HR1Y","x":20,"y":0.03},{"s":"4/HR1Y","x":21,"y":0.02},{"s":"4/HR1Y","x":22,"y":0.04},{"s":"4/HR1Y","x":23,"y":0.03},{"s":"4/HR1Y","x":24,"y":0.05},{"s":"4/HR1Y","x":25,"y":0.04},{"s":"4/HR1Y","x":26,"y":0.05},{"s":"4/HR1Y","x":27,"y":0.06},{"s":"4/HR1Y","x":28,"y":0.05},{"s":"4/HR1Y","x":29,"y":0.07},{"s":"4/HR1Y","x":30,"y":0.06},{"s":"4/HR1Y","x":31,"y":0.07},{"s":"4/HR1Y","x":32,"y":0.08},{"s":"4/HR1Y","x":33,"y":0.08},{"s":"4/HR1Y","x":34,"y":0.09},{"s":"4/HR1Y","x":35,"y":0.09},{"s":"4/HR1Y","x":36,"y":0.1},{"s":"4/HR1Y","x":37,"y":0.1},{"s":"4/HR1Y","x":38,"y":0.11},{"s":"4/HR1Y","x":39,"y":0.11},{"s":"4/HR1Y","x":40,"y":0.12},{"s":"4/HR1Y","x":41,"y":0.12},{"s":"4/HR1Y","x":42,"y":0.13},{"s":"4/HR1Y","x":43,"y":0.13},{"s":"4/HR1Y","x":44,"y":0.14},{"s":"4/HR1Y","x":45,"y":0.14},{"s":"4/HR1Y","x":46,"y":0.15},{"s":"4/HR1Y","x":47,"y":0.15},{"s":"4/HR1Y","x":48,"y":0.16},{"s":"4/HR1Y","x":49,"y":0.16},{"s":"4/HR1Y","x":50,"y":0.16},{"s":"4/HR1Y","x":51,"y":0.17},{"s":"4/HR1Y","x":52,"y":0.17},{"s":"4/HR1Y","x":53,"y":0.18},{"s":"4/HR1Y","x":54,"y":0.18},{"s":"4/HR1Y","x":55,"y":0.18},{"s":"4/HR1Y","x":56,"y":0.19},{"s":"4/HR1Y","x":57,"y":0.19},{"s":"4/HR1Y","x":58,"y":0.2},{"s":"4/HR1Y","x":59,"y":0.2},{"s":"4/HR1Y","x":60,"y":0.21},{"s":"4/HR1Y","x":61,"y":0.22},{"s":"4/HR1Y","x":62,"y":0.23},{"s":"4/HR1Y","x":63,"y":0.24},{"s":"4/HR1Y","x":64,"y":0.25},{"s":"4/HR1Y","x":65,"y":0.26},{"s":"4/HR1Y","x":66,"y":0.28},{"s":"4/HR1Y","x":67,"y":0.3},{"s":"4/HR1Y","x":68,"y":0.34},{"s":"4/HR1Y","x":69,"y":0.38},{"s":"4/HR1Y","x":70,"y":0.42},{"s":"4/HR1Y","x":71,"y":0.46},{"s":"4/HR1Y","x":72,"y":0.51},{"s":"4/HR1Y","x":73,"y":0.56},{"s":"4/HR1Y","x":74,"y":0.62},{"s":"4/HR1Y","x":75,"y":0.68},{"s":"4/HR1Y","x":76,"y":0.74},{"s":"4/HR1Y","x":77,"y":0.8},{"s":"4/HR1Y","x":78,"y":0.87},{"s":"4/HR1Y","x":79,"y":0.92},{"s":"4/HR1Y","x":80,"y":0.96},{"s":"4/HR1Y","x":81,"y":0.98},{"s":"4/HR1Y","x":82,"y":0.99},{"s":"4/HR1Y","x":83,"y":1.0},{"s":"4/HR1Y","x":84,"y":1.01},{"s":"4/HR1Y","x":85,"y":1.0},{"s":"4/HR1Y","x":86,"y":1.02},{"s":"4/HR1Y","x":87,"y":1.01},{"s":"4/HR1Y","x":88,"y":1.03},{"s":"4/HR1Y","x":89,"y":1.01},{"s":"4/HR1Y","x":90,"y":1.02},{"s":"4/HR1Y","x":91,"y":1.0},{"s":"4/HR1Y","x":92,"y":1.01},{"s":"4/HR1Y","x":93,"y":1.03},{"s":"4/HR1Y","x":94,"y":1.01},{"s":"4/HR1Y","x":95,"y":1.0},{"s":"4/HR1Y","x":96,"y":1.02},{"s":"4/HR1Y","x":97,"y":1.01},{"s":"4/HR1Y","x":98,"y":1.0},{"s":"4/HR1Y","x":99,"y":1.02},{"s":"4/HR1Y","x":100,"y":1.01}
]
},
"vconcat": [
{
  "width": 540, "height": 235,
  "title": {"text": "(A)", "offset": 8, "dx": -8},
  "layer": [
    {"data": {"values": [{}]}, "mark": {"type": "rule", "color": "#000", "strokeWidth": 1.2},
     "encoding": {
       "x": {"datum": 190, "type": "quantitative",
         "axis": {"title": "Wavelength [nm]", "values": [190, 200, 210, 220, 230, 240, 250, 260], "offset": -100.7, "tickSize": 7, "labelPadding": 18, "titlePadding": 74, "labelOverlap": false}},
       "x2": {"datum": 260},
       "y": {"datum": 0, "type": "quantitative",
         "axis": {"title": "θ [10⁴ deg cm² dmol⁻¹]", "values": [-3, -2, -1, 0, 1, 2, 3, 4], "offset": -8, "tickSize": -6, "labelPadding": 28, "titlePadding": 14, "labelOverlap": false}}}},
    {"data": {"name": "a"},
     "mark": {"type": "circle", "size": 44, "opacity": 1},
     "encoding": {
       "x": {"field": "x", "type": "quantitative", "scale": {"domain": [188.95, 260], "nice": false, "zero": false},
         "axis": {"title": "Wavelength [nm]", "values": [190, 200, 210, 220, 230, 240, 250, 260], "offset": -100.7, "tickSize": 7, "labelPadding": 18, "titlePadding": 74, "labelOverlap": false}},
       "y": {"field": "y", "type": "quantitative", "scale": {"domain": [-3, 4], "nice": false, "zero": false},
         "axis": {"title": "θ [10⁴ deg cm² dmol⁻¹]", "values": [-3, -2, -1, 0, 1, 2, 3, 4], "offset": -8, "tickSize": -6, "labelPadding": 28, "titlePadding": 14, "labelOverlap": false}},
       "color": {"field": "s", "type": "nominal",
         "scale": {"domain": ["3/HR1X", "4/HR1X", "3/HR1Y", "4/HR1Y"], "range": ["#0070C0", "#70AD47", "#FFC000", "#FF0000"]},
         "legend": {"orient": "none", "legendX": 286, "legendY": 0, "columns": 2, "columnPadding": 12, "rowPadding": 14}}
     }}
  ]
},
{
  "width": 539, "height": 209,
  "title": {"text": "(B)", "offset": 3, "dx": -8},
  "layer": [
    {"data": {"values": [{}]}, "mark": {"type": "rule", "color": "#000", "strokeWidth": 1.2},
     "encoding": {
       "x": {"datum": 0, "type": "quantitative",
         "axis": {"title": "Temperature [°C]", "values": [0, 20, 40, 60, 80, 100], "offset": -209, "tickSize": 7, "labelPadding": 225, "titlePadding": 5, "labelOverlap": false}},
       "x2": {"datum": 100},
       "y": {"datum": 0, "type": "quantitative",
         "axis": {"title": "θ [10⁴ deg cm² dmol⁻¹]", "values": [-3, -2.5, -2, -1.5, -1, -0.5, 0], "offset": -29, "tickSize": -6, "labelPadding": 21, "titlePadding": 14, "labelOverlap": false}}}},
    {"data": {"name": "b"},
     "mark": {"type": "circle", "size": 30, "opacity": 1},
     "encoding": {
       "x": {"field": "x", "type": "quantitative", "scale": {"domain": [-5.686, 100], "nice": false, "zero": false},
         "axis": {"title": "Temperature [°C]", "values": [0, 20, 40, 60, 80, 100], "offset": -209, "tickSize": 7, "labelPadding": 225, "titlePadding": 5, "labelOverlap": false}},
       "y": {"field": "y", "type": "quantitative", "scale": {"domain": [-3, 0], "nice": false, "zero": false},
         "axis": {"title": "θ [10⁴ deg cm² dmol⁻¹]", "values": [-3, -2.5, -2, -1.5, -1, -0.5, 0], "offset": -29, "tickSize": -6, "labelPadding": 21, "titlePadding": 14, "labelOverlap": false}},
       "color": {"field": "s", "type": "nominal",
         "scale": {"domain": ["3/HR1X", "4/HR1X", "3/HR1Y", "4/HR1Y"], "range": ["#0070C0", "#70AD47", "#FFC000", "#FF0000"]},
         "legend": {"orient": "none", "legendX": 46, "legendY": 17, "columns": 2, "columnPadding": 19, "rowPadding": 8}}
     }}
  ]
},
{
  "width": 538, "height": 237,
  "title": {"text": "(C)", "offset": 4, "dx": -8},
  "layer": [
    {"data": {"values": [{}]}, "mark": {"type": "rule", "color": "#000", "strokeWidth": 1.2},
     "encoding": {
       "x": {"datum": 0, "type": "quantitative",
         "axis": {"title": "Temperature [°C]", "values": [0, 20, 40, 60, 80, 100], "offset": -33.86, "tickSize": 7, "labelPadding": 17, "titlePadding": 9, "labelOverlap": false}},
       "x2": {"datum": 100},
       "y": {"datum": 0, "type": "quantitative",
         "axis": {"title": "Fraction unfolded", "values": [-0.2, 0, 0.2, 0.4, 0.6, 0.8, 1, 1.2], "offset": -25.6, "tickSize": -6, "labelPadding": 32, "titlePadding": 12, "labelOverlap": false}}}},
    {"data": {"name": "c"},
     "mark": {"type": "circle", "size": 30, "opacity": 1},
     "encoding": {
       "x": {"field": "x", "type": "quantitative", "scale": {"domain": [-5, 100], "nice": false, "zero": false},
         "axis": {"title": "Temperature [°C]", "values": [0, 20, 40, 60, 80, 100], "offset": -33.86, "tickSize": 7, "labelPadding": 17, "titlePadding": 9, "labelOverlap": false}},
       "y": {"field": "y", "type": "quantitative", "scale": {"domain": [-0.2, 1.2], "nice": false, "zero": false},
         "axis": {"title": "Fraction unfolded", "values": [-0.2, 0, 0.2, 0.4, 0.6, 0.8, 1, 1.2], "offset": -25.6, "tickSize": -6, "labelPadding": 32, "titlePadding": 12, "labelOverlap": false}},
       "color": {"field": "s", "type": "nominal",
         "scale": {"domain": ["3/HR1X", "4/HR1X", "3/HR1Y", "4/HR1Y"], "range": ["#0070C0", "#70AD47", "#FFC000", "#FF0000"]},
         "legend": {"orient": "none", "legendX": 42, "legendY": -6, "columns": 2, "columnPadding": 33, "rowPadding": 9}}
     }}
  ]
}
]
}
